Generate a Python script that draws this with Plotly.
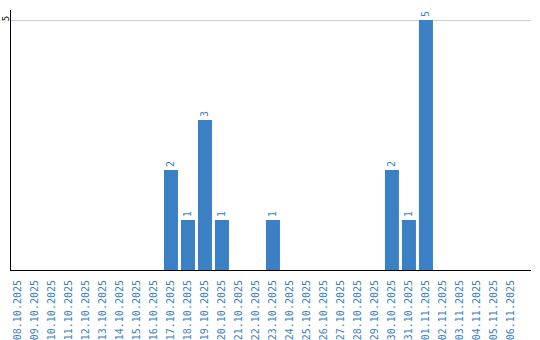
import plotly.graph_objects as go

dates = ["08.10.2025", "09.10.2025", "10.10.2025", "11.10.2025", "12.10.2025",
         "13.10.2025", "14.10.2025", "15.10.2025", "16.10.2025", "17.10.2025",
         "18.10.2025", "19.10.2025", "20.10.2025", "21.10.2025", "22.10.2025",
         "23.10.2025", "24.10.2025", "25.10.2025", "26.10.2025", "27.10.2025",
         "28.10.2025", "29.10.2025", "30.10.2025", "31.10.2025", "01.11.2025",
         "02.11.2025", "03.11.2025", "04.11.2025", "05.11.2025", "06.11.2025"]
counts = [0, 0, 0, 0, 0, 0, 0, 0, 0, 2,
          1, 3, 1, 0, 0, 1, 0, 0, 0, 0,
          0, 0, 2, 1, 5, 0, 0, 0, 0, 0]
labels = [str(v) if v else "" for v in counts]

BLUE = "#3b7fc4"

fig = go.Figure(go.Bar(
    x=dates, y=counts, text=labels, textposition="outside", textangle=-90,
    textfont=dict(color=BLUE, size=10, family="DejaVu Sans Mono"),
    marker=dict(color=BLUE, line=dict(width=0)), cliponaxis=False,
))

fig.update_layout(
    width=540, height=340, margin=dict(l=11, r=9, t=10, b=70),
    plot_bgcolor="white", paper_bgcolor="white", showlegend=False,
    bargap=0.176,
    font=dict(family="DejaVu Sans Mono", size=10),
)
fig.update_xaxes(type="category", range=[-0.41, 30.18], showline=True, linecolor="black",
                 linewidth=1, tickangle=-90, tickfont=dict(color=BLUE, size=10, family="DejaVu Sans Mono"),
                 showgrid=False, ticks="", ticklabelstandoff=5, automargin=False)
fig.update_yaxes(range=[0, 5.2], tickvals=[5], ticktext=["5"], showline=True, linecolor="black",
                 linewidth=1, tickangle=-90, tickfont=dict(color="black", size=9, family="DejaVu Sans Mono"),
                 showgrid=True, gridcolor="#cccccc", gridwidth=1, zeroline=False, ticks="",
                 ticklabelstandoff=-3, automargin=False)

fig.write_html("out.html")
